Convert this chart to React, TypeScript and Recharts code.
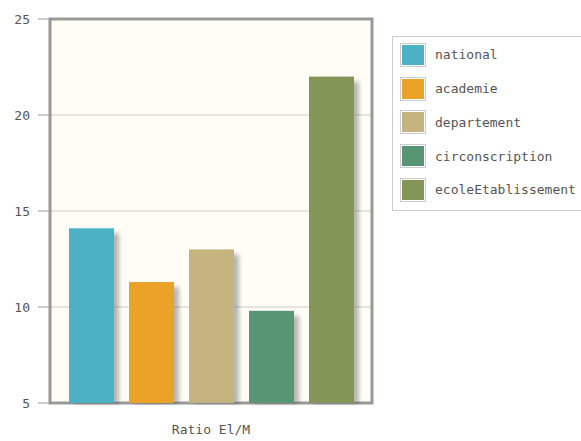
import React from 'react';
import { BarChart, Bar, XAxis, YAxis, CartesianGrid, ReferenceArea } from 'recharts';

const seriesNames = ['national', 'academie', 'departement', 'circonscription', 'ecoleEtablissement'];
const seriesValues = [14.1, 11.3, 13.0, 9.8, 22.0];
const seriesColors = ['#4bb2c5', '#eaa228', '#c5b47f', '#579575', '#839557'];
const categories = ['Ratio El/M'];
const yTicks = [5, 10, 15, 20, 25];

const data = categories.map((name) => {
  const row: Record<string, string | number> = { name };
  seriesNames.forEach((s, i) => {
    row[s] = seriesValues[i];
  });
  return row;
});

const FONT = '"DejaVu Sans Mono", monospace';

// bar with the soft grey drop shadow on the right side
const ShadowBar = (props: any) => {
  const { x, y, width, height, fill } = props;
  if (height <= 0) return null;
  return (
    <g>
      <defs>
        <filter id="barShadow" x="-50%" y="-10%" width="200%" height="120%">
          <feGaussianBlur stdDeviation="2" />
        </filter>
      </defs>
      <rect x={x + 5} y={y + 5} width={width} height={height - 5} fill="#000" opacity={0.28} filter="url(#barShadow)" />
      <rect x={x} y={y} width={width} height={height} fill={fill} />
    </g>
  );
};

const LegendBox = () => (
  <div
    style={{
      position: 'absolute',
      left: 392,
      top: 36,
      border: '1px solid #cccccc',
      background: '#fff',
      padding: '1px 0 3px 7px',
      width: 220,
      fontFamily: FONT,
      fontSize: 13,
      color: '#555',
    }}
  >
    {seriesNames.map((s, i) => (
      <div key={s} style={{ display: 'flex', alignItems: 'center', height: 33.75 }}>
        <div style={{ border: '1px solid #cccccc', padding: 1, marginRight: 9 }}>
          <div style={{ width: 22, height: 20, background: seriesColors[i] }} />
        </div>
        <span>{s}</span>
      </div>
    ))}
  </div>
);

export default function App() {
  return (
    <div style={{ position: 'absolute', left: 0, top: 0, width: 581, height: 441, background: '#fff', overflow: 'hidden' }}>
      <BarChart
        width={581}
        height={441}
        data={data}
        margin={{ top: 19, right: 209, left: 0, bottom: 0 }}
        barSize={45}
        barGap={15}
      >
        <CartesianGrid vertical={false} stroke="#cccccc" fill="#fffdf6" horizontalValues={[10, 15, 20]} />
        <XAxis
          dataKey="name"
          height={38}
          tickLine={false}
          axisLine={false}
          tickSize={0}
          tickMargin={22}
          tick={{ fill: '#555', fontSize: 13, fontFamily: FONT }}
        />
        <YAxis
          type="number"
          domain={[5, 25]}
          ticks={yTicks}
          width={50}
          axisLine={false}
          tickSize={12}
          tickMargin={8}
          tickLine={{ stroke: '#999999' }}
          tick={{ fill: '#555', fontSize: 13, fontFamily: FONT }}
        />
        {seriesNames.map((s, i) => (
          <Bar key={s} dataKey={s} fill={seriesColors[i]} shape={<ShadowBar />} isAnimationActive={false} />
        ))}
        <ReferenceArea y1={5} y2={25} fill="none" stroke="#999999" strokeWidth={3} ifOverflow="visible" />
      </BarChart>
      <LegendBox />
    </div>
  );
}
